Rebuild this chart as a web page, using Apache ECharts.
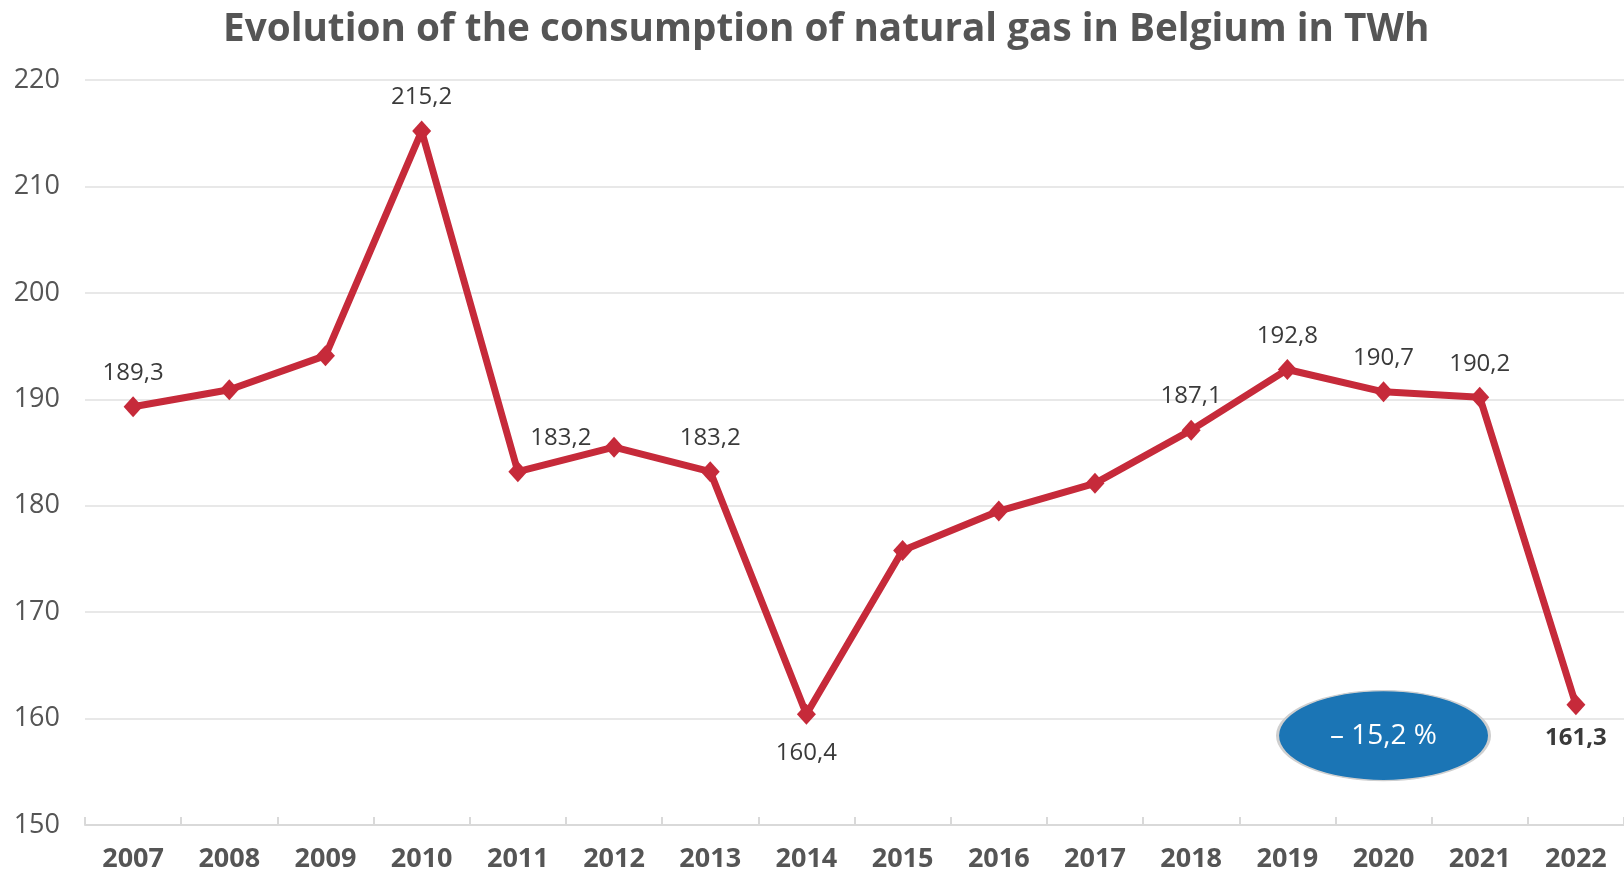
<!DOCTYPE html>
<html>
<head>
<meta charset="utf-8">
<script src="https://cdn.jsdelivr.net/npm/echarts@6/dist/echarts.min.js"></script>
<style>
html,body{margin:0;padding:0;background:#fff;}
#chart{width:1624px;height:873px;}
</style>
</head>
<body>
<div id="chart"></div>
<script>
const years = ['2007','2008','2009','2010','2011','2012','2013','2014','2015','2016','2017','2018','2019','2020','2021','2022'];
const consumption = [189.3, 190.9, 194.1, 215.2, 183.2, 185.5, 183.2, 160.4, 175.8, 179.5, 182.1, 187.1, 192.8, 190.7, 190.2, 161.3];
const labelledYears = ['2007','2010','2011','2013','2014','2018','2019','2020','2021','2022'];
const yTicks = [150, 160, 170, 180, 190, 200, 210, 220];
const changeText = '– 15,2 %';
const changeAnchor = ['2020', 158.4];

const fmt = v => v.toFixed(1).replace('.', ',');

const seriesData = consumption.map((v, i) => {
  const y = years[i];
  const item = { value: v };
  if (labelledYears.indexOf(y) < 0) {
    item.label = { show: false };
  } else if (y === '2014') {
    item.label = { show: true, position: 'bottom', distance: 16 };
  } else if (y === '2022') {
    item.label = { show: true, position: 'bottom', distance: 11, fontWeight: 'bold', color: '#3a3a3a' };
  } else if (y === '2011') {
    item.label = { show: true, position: 'top', distance: 11, offset: [43, 0] };
  } else {
    item.label = { show: true, position: 'top', distance: 11 };
  }
  return item;
});

const chart = echarts.init(document.getElementById('chart'), null, { renderer: 'canvas' });
chart.setOption({
  animation: false,
  backgroundColor: '#ffffff',
  title: {
    text: 'Evolution of the consumption of natural gas in Belgium in TWh',
    left: 218,
    top: 5,
    textStyle: { fontFamily: 'Open Sans', fontWeight: 'bold', fontSize: 38.7, color: '#555555' }
  },
  grid: { left: 85, right: -2, top: 80, bottom: 45, containLabel: false },
  xAxis: {
    type: 'category',
    data: years,
    boundaryGap: true,
    axisLine: { lineStyle: { color: '#d9d9d9', width: 2 } },
    axisTick: { show: true, inside: true, length: 8, lineStyle: { color: '#d9d9d9', width: 2 } },
    axisLabel: { margin: 21, fontFamily: 'Open Sans', fontWeight: 'bold', fontSize: 27, color: '#555555' },
    splitLine: { show: false }
  },
  yAxis: {
    type: 'value',
    min: yTicks[0],
    max: yTicks[yTicks.length - 1],
    interval: 10,
    axisLine: { show: false },
    axisTick: { show: false },
    axisLabel: { margin: 25, fontFamily: 'Open Sans', fontSize: 27, color: '#555555', letterSpacing: 1 },
    splitLine: { lineStyle: { color: '#e8e8e8', width: 2 } }
  },
  series: [{
    type: 'line',
    data: seriesData,
    smooth: false,
    symbol: 'diamond',
    symbolSize: [19, 21],
    lineStyle: { color: '#c62a3a', width: 7, join: 'round' },
    itemStyle: { color: '#c62a3a' },
    label: {
      formatter: p => fmt(p.value),
      fontFamily: 'Open Sans',
      fontSize: 24,
      color: '#3a3a3a',
      letterSpacing: 1
    },
    markPoint: {
      silent: true,
      symbol: 'circle',
      symbolSize: [212, 90],
      itemStyle: { color: '#1b75b5', borderColor: '#cfcfcf', borderWidth: 2 },
      label: { show: true, formatter: changeText, color: '#ffffff', fontFamily: 'Open Sans', fontSize: 28, letterSpacing: 1, position: 'inside' },
      data: [{ coord: changeAnchor }]
    }
  }]
});
</script>
</body>
</html>
